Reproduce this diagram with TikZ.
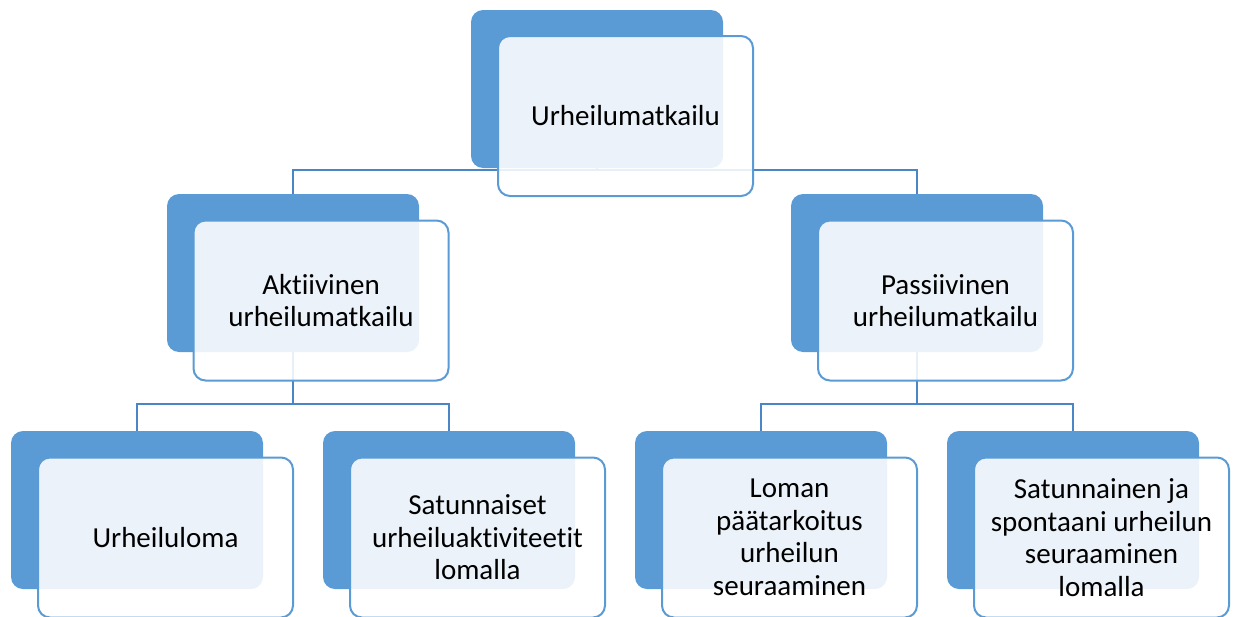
\documentclass[tikz,border=0pt]{standalone}
\usepackage{fontspec}
\setmainfont{Carlito}[Ligatures={NoCommon}]
\usetikzlibrary{backgrounds}
\definecolor{boxblue}{HTML}{5B9BD5}
\definecolor{linkblue}{HTML}{4A86C5}
\tikzset{
  backbox/.style={rectangle, rounded corners=12pt, fill=boxblue, draw=none,
    minimum width=252pt, minimum height=158pt, inner sep=0pt, outer sep=0pt},
  frontbox/.style={rectangle, rounded corners=12pt, fill=white, fill opacity=0.88,
    text opacity=1, draw=boxblue, line width=2pt,
    minimum width=255pt, minimum height=160pt, inner sep=0pt, outer sep=0pt,
    align=center, font=\fontsize{29}{32.5}\selectfont},
  link/.style={draw=linkblue, line width=2pt}
}
\begin{document}
\begin{tikzpicture}[x=1pt,y=-1pt]
\useasboundingbox (0,0) rectangle (1237,616);
% level 1
\node[backbox] (b0) at (597,89) {};
\node[frontbox] (f0) at (625.5,116) {Urheilumatkailu};
% level 2
\node[backbox] (b1) at (293,273) {};
\node[frontbox] (f1) at (321,300.5) {Aktiivinen\\urheilumatkailu};
\node[backbox] (b2) at (917,273) {};
\node[frontbox] (f2) at (945.5,300.5) {Passiivinen\\urheilumatkailu};
% level 3
\node[backbox] (b3) at (137,510) {};
\node[frontbox] (f3) at (165.5,537.5) {Urheiluloma};
\node[backbox] (b4) at (449,510) {};
\node[frontbox] (f4) at (477.5,537.5) {Satunnaiset\\urheiluaktiviteetit\\lomalla};
\node[backbox] (b5) at (761,510) {};
\node[frontbox] (f5) at (789.5,537.5) {Loman\\päätarkoitus\\urheilun\\seuraaminen};
\node[backbox] (b6) at (1073,510) {};
\node[frontbox] (f6) at (1101.5,537.5) {Satunnainen ja\\spontaani urheilun\\seuraaminen\\lomalla};
\begin{pgfonlayer}{background}
\draw[link] (b0.center) -- ++(0,81) -| (b1.north);
\draw[link] (b0.center) -- ++(0,81) -| (b2.north);
\draw[link] (b1.center) -- ++(0,131) -| (b3.north);
\draw[link] (b1.center) -- ++(0,131) -| (b4.north);
\draw[link] (b2.center) -- ++(0,131) -| (b5.north);
\draw[link] (b2.center) -- ++(0,131) -| (b6.north);
\end{pgfonlayer}
\end{tikzpicture}
\end{document}
